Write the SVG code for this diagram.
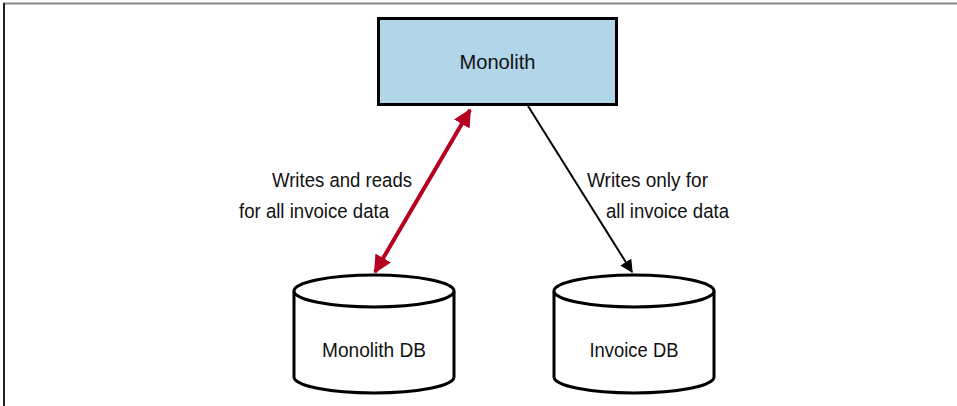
<svg xmlns="http://www.w3.org/2000/svg" width="957" height="406" viewBox="0 0 957 406">
<style>
.t{font-family:"Liberation Sans",Arial,sans-serif;font-size:20.5px;fill:#111}
.db{fill:#fff;stroke:#000;stroke-width:3}
</style>
<defs>
<marker id="ar" viewBox="0 0 10 10" refX="9" refY="5" markerWidth="4.5" markerHeight="4.5" orient="auto-start-reverse" markerUnits="strokeWidth">
<path d="M0,0 L10,5 L0,10 Z" fill="#b5001f"/>
</marker>
<marker id="ab" viewBox="0 0 10 10" refX="9" refY="5" markerWidth="6.5" markerHeight="6.5" orient="auto" markerUnits="strokeWidth">
<path d="M0,0 L10,5 L0,10 Z" fill="#000"/>
</marker>
</defs>
<rect width="957" height="406" fill="#fff"/>
<line x1="3" y1="3.5" x2="957" y2="3.5" stroke="#888" stroke-width="2"/>
<line x1="4" y1="3" x2="4" y2="406" stroke="#222" stroke-width="2"/>
<g id="monolith">
<rect x="378.5" y="18.5" width="238" height="86" fill="#b1d5e9" stroke="#000" stroke-width="3"/>
<text class="t" x="497.5" y="69" text-anchor="middle" textLength="76" lengthAdjust="spacingAndGlyphs">Monolith</text>
</g>
<g id="monolithdb">
<path class="db" d="M294,291 L294,377 A80,16 0 0 0 454,377 L454,291"/>
<ellipse class="db" cx="374" cy="291" rx="80" ry="16"/>
<text class="t" x="374" y="357" text-anchor="middle" textLength="104" lengthAdjust="spacingAndGlyphs">Monolith DB</text>
</g>
<g id="invoicedb">
<path class="db" d="M554,291 L554,377 A80,16 0 0 0 714,377 L714,291"/>
<ellipse class="db" cx="634" cy="291" rx="80" ry="16"/>
<text class="t" x="634" y="357" text-anchor="middle" textLength="89" lengthAdjust="spacingAndGlyphs">Invoice DB</text>
</g>
<g id="connectors">
<line x1="375" y1="272" x2="470" y2="110" stroke="#b5001f" stroke-width="4" marker-start="url(#ar)" marker-end="url(#ar)"/>
<line x1="528" y1="106" x2="632" y2="272" stroke="#000" stroke-width="2" marker-end="url(#ab)"/>
<text class="t" x="412" y="187" text-anchor="end" textLength="140" lengthAdjust="spacingAndGlyphs">Writes and reads</text>
<text class="t" x="389" y="218" text-anchor="end" textLength="150" lengthAdjust="spacingAndGlyphs">for all invoice data</text>
<text class="t" x="587" y="187" textLength="121" lengthAdjust="spacingAndGlyphs">Writes only for</text>
<text class="t" x="606" y="218" textLength="123" lengthAdjust="spacingAndGlyphs">all invoice data</text>
</g>
</svg>
